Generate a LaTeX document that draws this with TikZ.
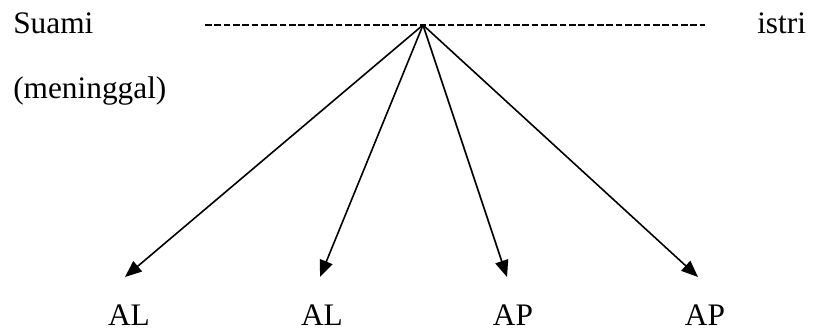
\documentclass[tikz,border=0pt]{standalone}
\usepackage{fontspec}
\setmainfont{Liberation Serif}
\usetikzlibrary{arrows.meta}
\begin{document}
\begin{tikzpicture}[x=0.75pt,y=-0.75pt,
  lbl/.style={inner sep=0pt,anchor=base west,font=\fontsize{23.5}{28}\selectfont},
  kid/.style={inner sep=0pt,anchor=base,font=\fontsize{23.5}{28}\selectfont},
  link/.style={line width=1.2pt,-{Triangle[length=12.5pt,width=10pt]}},
  marriage/.style={line width=0.9pt,dash pattern=on 4.9pt off 2.1pt}]
  \useasboundingbox (0,0) rectangle (834,332);
  % spouses
  \node[lbl] (suami) at (13,33) {Suami};
  \node[lbl] (istri) at (757,33) {istri};
  \node[lbl] (mati) at (13,98) {(meninggal)};
  % marriage line
  \coordinate (mL) at (205,25);
  \coordinate (mR) at (705,25);
  \coordinate (apex) at (423,25);
  \draw[marriage] (mL) -- (mR);
  % children
  \node[kid] (al1) at (129,325) {AL};
  \node[kid] (al2) at (322,325) {AL};
  \node[kid] (ap1) at (513,325) {AP};
  \node[kid] (ap2) at (705,325) {AP};
  \coordinate (t1) at (125,277);
  \coordinate (t2) at (320,277);
  \coordinate (t3) at (507,277);
  \coordinate (t4) at (698,277);
  \foreach \t in {t1,t2,t3,t4} \draw[link] (apex) -- (\t);
\end{tikzpicture}
\end{document}
